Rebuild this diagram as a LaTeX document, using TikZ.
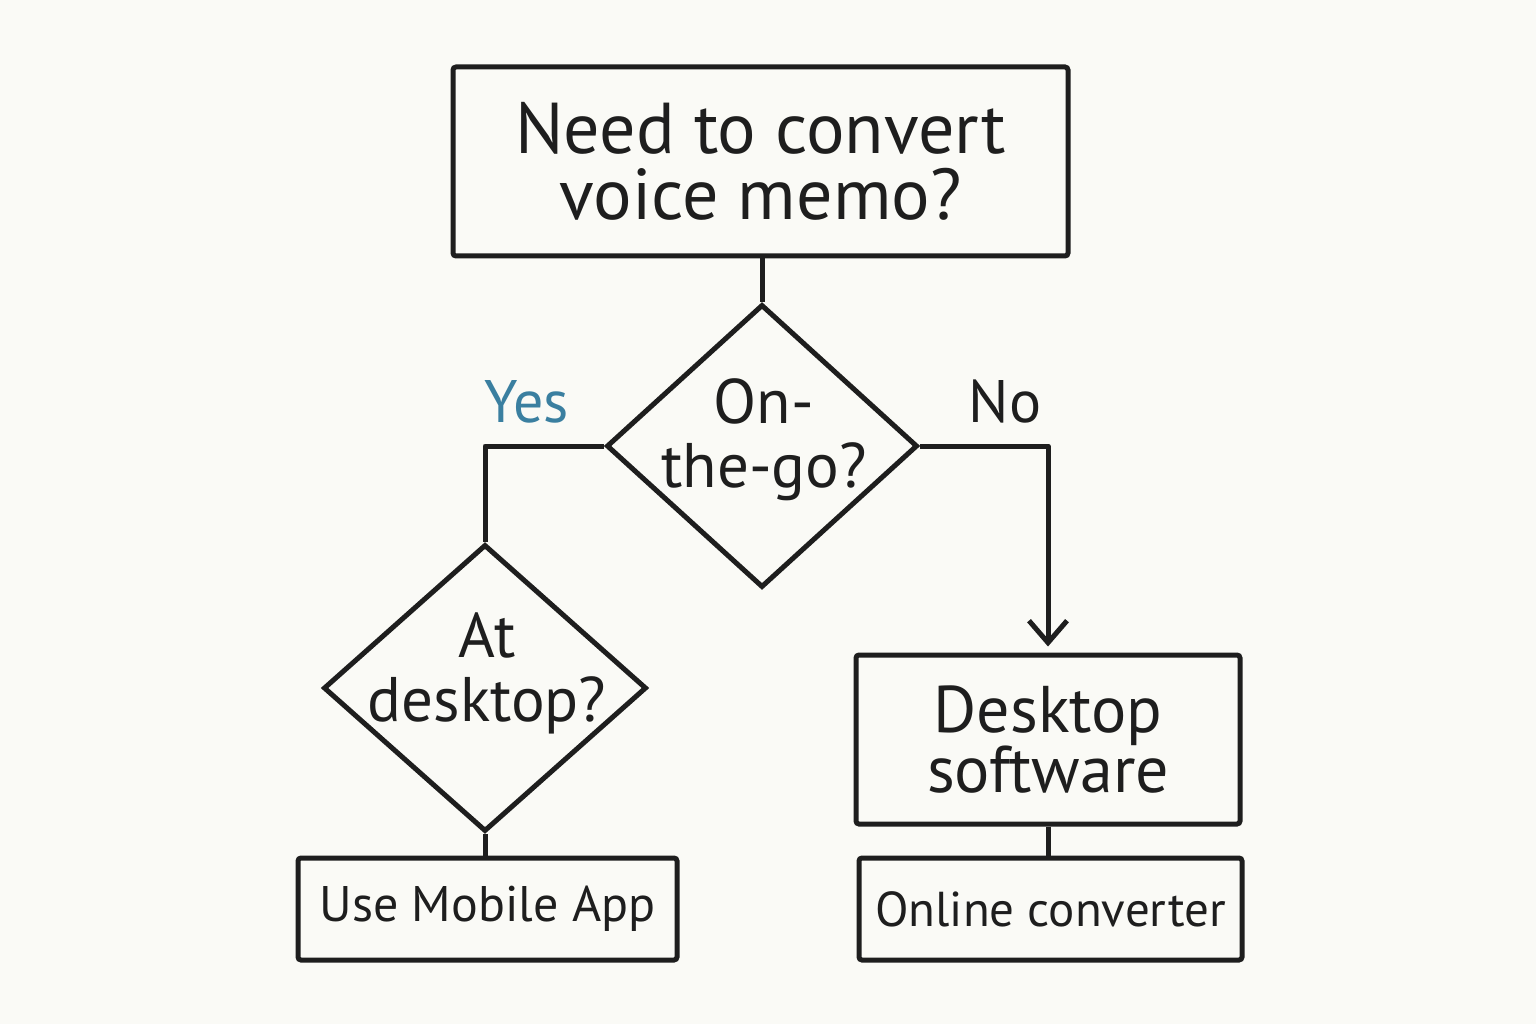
\documentclass[tikz,border=0pt]{standalone}
\usepackage{fontspec}
\setmainfont{PT Sans}
\usetikzlibrary{shapes.geometric,arrows.meta}
\definecolor{bg}{HTML}{FAFAF6}
\definecolor{ink}{HTML}{1E1E1E}
\definecolor{yesblue}{HTML}{3A7FA0}
\begin{document}
\begin{tikzpicture}[x=1pt,y=-1pt,
  every node/.style={text=ink},
  boxnode/.style={draw=ink,line width=5pt,rounded corners=3pt,fill=bg,inner sep=0pt,align=center},
  dia/.style={draw=ink,line width=5pt,shape=diamond,inner sep=0pt},
  conn/.style={draw=ink,line width=5pt},
  big/.style={font=\fontsize{72}{66}\selectfont},
  mid/.style={font=\fontsize{63}{64}\selectfont},
  sml/.style={font=\fontsize{50}{56}\selectfont}]
\fill[bg] (0,0) rectangle (1536,1024);
\useasboundingbox (0,0) rectangle (1536,1024);

\node[boxnode,big,minimum width=615pt,minimum height=189pt] (top) at (760.5,161.5) {Need to convert\\voice memo?};

\node[dia,minimum width=311pt,minimum height=283pt] (d1) at (762,446) {};
\node[mid,align=center] (d1t) at (764,440) {On-\\the-go?};

\node[dia,minimum width=323pt,minimum height=287pt] (d2) at (485,688) {};
\node[mid,align=center] (d2t) at (487,673) {At\\desktop?};

\node[boxnode,sml,minimum width=379pt,minimum height=102pt] (uma) at (487.5,909) {Use Mobile App};
\node[boxnode,font=\fontsize{66}{56}\selectfont,minimum width=384pt,minimum height=169pt] (ds) at (1048,739.5) {Desktop\\software};
\node[boxnode,font=\fontsize{49}{56}\selectfont,minimum width=383pt,minimum height=102pt] (oc) at (1050.5,909) {Online converter};

\node[font=\fontsize{60}{60}\selectfont,text=yesblue] (yes) at (527,402) {Yes};
\node[font=\fontsize{60}{60}\selectfont] (no) at (1005,402) {No};

\coordinate (yc) at (d1.west -| d2.north);
\coordinate (nc) at (d1.east -| ds.north);
\coordinate (arr) at ([yshift=6pt]ds.north);

\draw[conn] (d1.north |- top.south) -- (d1.north);
\draw[conn,line join=round] (d1.west) -- (yc) -- (d2.north);
\draw[conn] (d2.south) -- (d2.south |- uma.north);
\draw[conn,line join=round,-{Straight Barb[length=22pt,width=38pt,line width=5pt]}] (d1.east) -- (nc) -- (arr);
\draw[conn] (ds.south) -- (ds.south |- oc.north);
\end{tikzpicture}
\end{document}
